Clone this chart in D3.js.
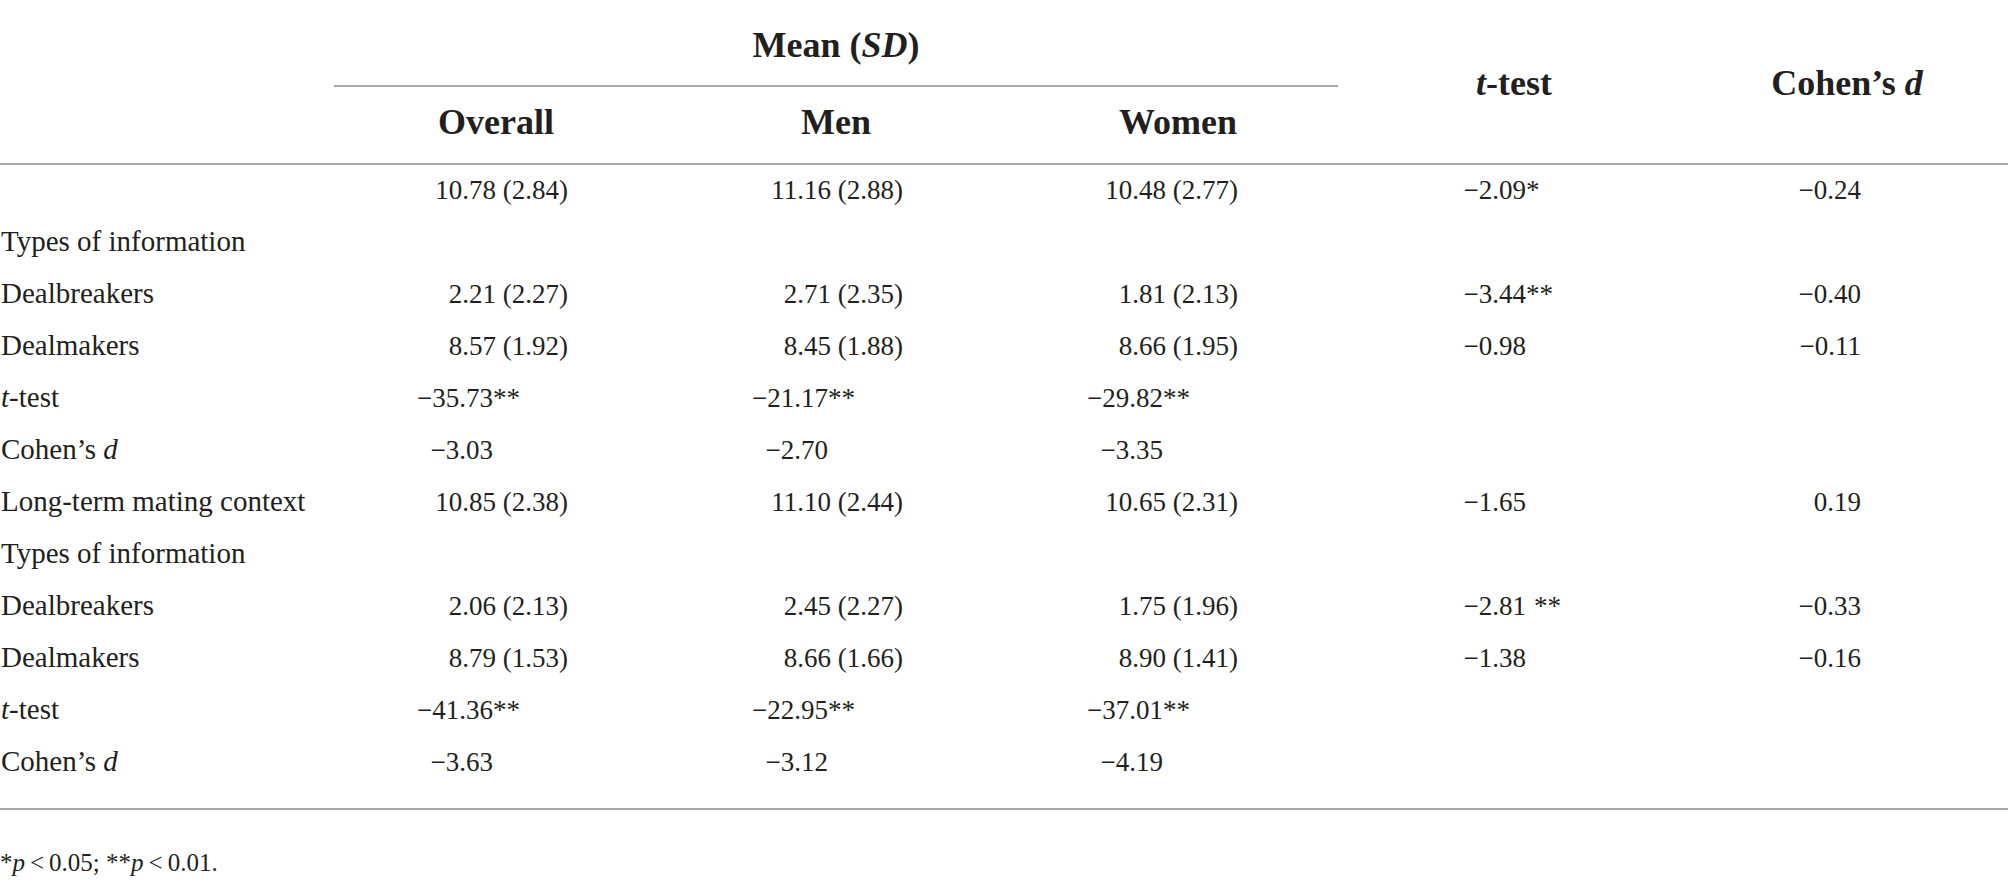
<!DOCTYPE html>
<html>
<head>
<meta charset="utf-8">
<script src="https://cdn.jsdelivr.net/npm/d3@7"></script>
<style>
  body { margin: 0; background: #fff; }
  svg text { font-family: "Liberation Serif", "Times New Roman", serif; fill: #231f20; }
  .head { font-weight: bold; font-size: 36px; }
  .cell { font-size: 27px; }
  .label { font-size: 29px; }
  .note { font-size: 25px; }
</style>
</head>
<body>
<div id="table"></div>
<script>
// row labels, _x_ marks italic
var rowLabels = ["", "Types of information", "Dealbreakers", "Dealmakers", "_t_-test", "Cohen\u2019s _d_",
    "Long-term mating context", "Types of information", "Dealbreakers", "Dealmakers", "_t_-test", "Cohen\u2019s _d_"];

var overall = ["10.78 (2.84)", "", "2.21 (2.27)", "8.57 (1.92)", "\u221235.73**", "\u22123.03",
    "10.85 (2.38)", "", "2.06 (2.13)", "8.79 (1.53)", "\u221241.36**", "\u22123.63"];
var men = ["11.16 (2.88)", "", "2.71 (2.35)", "8.45 (1.88)", "\u221221.17**", "\u22122.70",
    "11.10 (2.44)", "", "2.45 (2.27)", "8.66 (1.66)", "\u221222.95**", "\u22123.12"];
var women = ["10.48 (2.77)", "", "1.81 (2.13)", "8.66 (1.95)", "\u221229.82**", "\u22123.35",
    "10.65 (2.31)", "", "1.75 (1.96)", "8.90 (1.41)", "\u221237.01**", "\u22124.19"];
var tTest = ["\u22122.09*", "", "\u22123.44**", "\u22120.98", "", "",
    "\u22121.65", "", "\u22122.81 **", "\u22121.38", "", ""];
var cohenD = ["\u22120.24", "", "\u22120.40", "\u22120.11", "", "",
    "0.19", "", "\u22120.33", "\u22120.16", "", ""];

var groupHeader = "Mean (_SD_)";
var subHeaders = ["Overall", "Men", "Women"];
var statHeaders = ["_t_-test", "Cohen\u2019s _d_"];
var footnote = "*_p_\u2009<\u20090.05; **_p_\u2009<\u20090.01.";

var width = 2008, height = 892;

var svg = d3.select("#table")
    .append("svg")
    .attr("width", width)
    .attr("height", height);

// columns: right edge of numbers, centre of header
var columns = [
    { key: "overall", values: overall, right: 568, center: 496 },
    { key: "men", values: men, right: 903, center: 836 },
    { key: "women", values: women, right: 1238, center: 1178 },
    { key: "ttest", values: tTest, right: 1526, center: 1514 },
    { key: "cohen", values: cohenD, right: 1861, center: 1847 }
];

var y = d3.scalePoint()
    .domain(d3.range(rowLabels.length))
    .range([199, 771]);

// write text with _italic_ parts as tspans
function rich(sel, str) {
    str.split("_").forEach(function (part, i) {
        if (part === "") return;
        sel.append("tspan")
            .style("font-style", i % 2 ? "italic" : null)
            .text(part);
    });
}

// rules
function rule(x1, x2, yy) {
    svg.append("line")
        .attr("x1", x1).attr("x2", x2)
        .attr("y1", yy).attr("y2", yy)
        .attr("stroke", "#a7a9ac")
        .attr("stroke-width", 2);
}
rule(334, 1338, 86);
rule(0, width, 164);
rule(0, width, 809);

// headers
svg.append("text")
    .attr("class", "head")
    .attr("x", 836)
    .attr("y", 57)
    .style("text-anchor", "middle")
    .call(rich, groupHeader);

subHeaders.forEach(function (h, i) {
    svg.append("text")
        .attr("class", "head")
        .attr("x", columns[i].center)
        .attr("y", 134)
        .style("text-anchor", "middle")
        .text(h);
});

statHeaders.forEach(function (h, i) {
    svg.append("text")
        .attr("class", "head")
        .attr("x", columns[3 + i].center)
        .attr("y", 95)
        .style("text-anchor", "middle")
        .call(rich, h);
});

// row labels
svg.append("g")
    .selectAll("text")
    .data(rowLabels)
    .enter()
    .append("text")
    .attr("class", "label")
    .attr("x", 1)
    .attr("y", function (d, i) { return y(i); })
    .each(function (d) { rich(d3.select(this), d); });

// cells: numbers right aligned, stars hang after the number
columns.forEach(function (col) {
    var g = svg.append("g").attr("class", col.key);
    col.values.forEach(function (v, i) {
        if (!v) return;
        var m = v.match(/^([^*]*?)(\s?\*+)?$/);
        var num = m[1], stars = m[2] || "";
        var right = col.right;
        if (num.indexOf("(") < 0 && col.key !== "ttest" && col.key !== "cohen") right -= 75;
        g.append("text")
            .attr("class", "cell")
            .attr("x", right)
            .attr("y", y(i))
            .style("text-anchor", "end")
            .text(num);
        if (stars) {
            g.append("text")
                .attr("class", "cell")
                .attr("x", right + (stars[0] === " " ? 8 : 0))
                .attr("y", y(i))
                .text(stars.trim());
        }
    });
});

// footnote
svg.append("text")
    .attr("class", "note")
    .attr("x", 0)
    .attr("y", 871)
    .call(rich, footnote);
</script>
</body>
</html>
